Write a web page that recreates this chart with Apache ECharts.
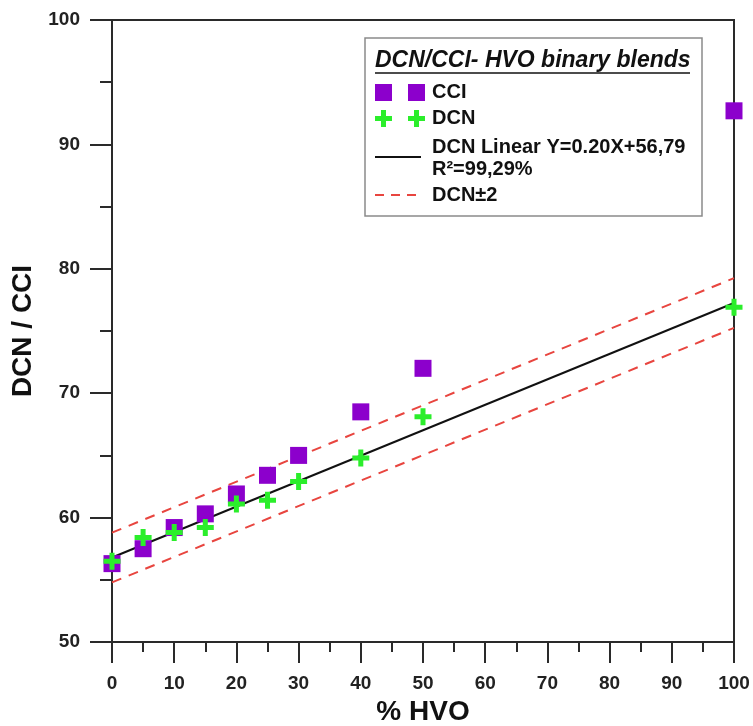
<!DOCTYPE html>
<html>
<head>
<meta charset="utf-8">
<title>DCN / CCI vs % HVO</title>
<script src="https://cdn.jsdelivr.net/npm/echarts@6/dist/echarts.min.js"></script>
<style>
  html, body { margin: 0; padding: 0; background: #ffffff; }
  #chart { width: 753px; height: 726px; }
</style>
</head>
<body>
<div id="chart"></div>
<script>
// HVO content of the blends (%)
const hvoPercent = [0, 5, 10, 15, 20, 25, 30, 40, 50, 100];
// Calculated cetane index
const cciValues = [56.3, 57.5, 59.2, 60.3, 61.9, 63.4, 65.0, 68.5, 72.0, 92.7];
// Derived cetane number
const dcnValues = [56.5, 58.4, 58.8, 59.2, 61.1, 61.4, 62.9, 64.8, 68.1, 76.9];

// Linear fit of DCN: Y = 0.20X + 56.79 (slope shown rounded), band of +/-2
const fitSlope = 0.2046;
const fitIntercept = 56.79;
const bandWidth = 2;
const fitRange = [0, 100];

const xTicks = { min: 0, max: 100, step: 10 };
const yTicks = { min: 50, max: 100, step: 10 };

const FONT = '"Liberation Sans", Arial, sans-serif';
const PURPLE = '#8C00CC';
const GREEN = '#2BEE2B';
const RED = '#E8453F';
const PLUS = 'path://M6,0H11V6H17V11H11V17H6V11H0V6H6Z';

const fitLine = fitRange.map(x => [x, fitIntercept + fitSlope * x]);
const upperBand = fitRange.map(x => [x, fitIntercept + fitSlope * x + bandWidth]);
const lowerBand = fitRange.map(x => [x, fitIntercept + fitSlope * x - bandWidth]);

const chart = echarts.init(document.getElementById('chart'), null, { renderer: 'canvas' });

const axisCommon = {
  type: 'value',
  axisLine: { show: true, lineStyle: { color: '#2a2a2a', width: 2 } },
  axisTick: { show: true, inside: false, lineStyle: { color: '#2a2a2a', width: 2 } },
  minorTick: { show: true, splitNumber: 2, lineStyle: { color: '#2a2a2a', width: 2 } },
  splitLine: { show: false },
  axisLabel: { color: '#222', fontFamily: FONT, fontWeight: 'bold', fontSize: 19 },
  nameTextStyle: { color: '#111', fontFamily: FONT, fontWeight: 'bold', fontSize: 28 }
};

// Legend panel drawn as graphic elements (two symbols per entry)
const lx = 365, ly = 38;
const legendFont = 'bold 20px ' + FONT;
const legendGraphic = [
  { type: 'rect', shape: { x: lx, y: ly, width: 337, height: 178 },
    style: { fill: '#fff', stroke: '#8a8a8a', lineWidth: 1.5 }, z: 100 },
  { type: 'text', x: 375, y: 61, z: 101,
    style: { text: 'DCN/CCI- HVO binary blends', fill: '#111', font: 'italic bold 23px ' + FONT,
             textVerticalAlign: 'middle' } },
  { type: 'line', shape: { x1: 375, y1: 73, x2: 690, y2: 73 }, z: 101,
    style: { stroke: '#111', lineWidth: 1.5 } },
  // CCI
  { type: 'rect', shape: { x: 375, y: 84, width: 17, height: 17 }, style: { fill: PURPLE }, z: 101 },
  { type: 'rect', shape: { x: 408, y: 84, width: 17, height: 17 }, style: { fill: PURPLE }, z: 101 },
  { type: 'text', x: 432, y: 92, z: 101,
    style: { text: 'CCI', fill: '#111', font: legendFont, textVerticalAlign: 'middle' } },
  // DCN
  { type: 'rect', shape: { x: 375, y: 116, width: 17, height: 5 }, style: { fill: GREEN }, z: 101 },
  { type: 'rect', shape: { x: 381, y: 110, width: 5, height: 17 }, style: { fill: GREEN }, z: 101 },
  { type: 'rect', shape: { x: 408, y: 116, width: 17, height: 5 }, style: { fill: GREEN }, z: 101 },
  { type: 'rect', shape: { x: 414, y: 110, width: 5, height: 17 }, style: { fill: GREEN }, z: 101 },
  { type: 'text', x: 432, y: 118, z: 101,
    style: { text: 'DCN', fill: '#111', font: legendFont, textVerticalAlign: 'middle' } },
  // Linear fit
  { type: 'line', shape: { x1: 375, y1: 157, x2: 421, y2: 157 }, z: 101,
    style: { stroke: '#111', lineWidth: 2 } },
  { type: 'text', x: 432, y: 147, z: 101,
    style: { text: 'DCN Linear Y=0.20X+56,79', fill: '#111', font: legendFont, textVerticalAlign: 'middle' } },
  { type: 'text', x: 432, y: 169, z: 101,
    style: { text: 'R\u00B2=99,29%', fill: '#111', font: legendFont, textVerticalAlign: 'middle' } },
  // Band
  { type: 'line', shape: { x1: 375, y1: 195, x2: 421, y2: 195 }, z: 101,
    style: { stroke: RED, lineWidth: 2, lineDash: [9, 7] } },
  { type: 'text', x: 432, y: 195, z: 101,
    style: { text: 'DCN\u00B12', fill: '#111', font: legendFont, textVerticalAlign: 'middle' } }
];

chart.setOption({
  animation: false,
  backgroundColor: '#ffffff',
  grid: { left: 112, right: 19, top: 20, bottom: 84, show: true, outerBoundsMode: 'none',
          containLabel: false,
          borderColor: '#2a2a2a', borderWidth: 2, backgroundColor: 'transparent' },
  xAxis: Object.assign({}, axisCommon, {
    min: xTicks.min, max: xTicks.max, interval: xTicks.step,
    name: '% HVO', nameLocation: 'middle', nameGap: 56,
    axisTick: Object.assign({}, axisCommon.axisTick, { length: 21 }),
    minorTick: Object.assign({}, axisCommon.minorTick, { length: 10 }),
    axisLabel: Object.assign({}, axisCommon.axisLabel, { margin: 32 })
  }),
  yAxis: Object.assign({}, axisCommon, {
    min: yTicks.min, max: yTicks.max, interval: yTicks.step,
    name: 'DCN / CCI', nameLocation: 'middle', nameGap: 67,
    axisTick: Object.assign({}, axisCommon.axisTick, { length: 22 }),
    minorTick: Object.assign({}, axisCommon.minorTick, { length: 12 }),
    axisLabel: Object.assign({}, axisCommon.axisLabel, { margin: 32 })
  }),
  series: [
    { name: 'DCN\u00B12 upper', type: 'line', data: upperBand, showSymbol: false, silent: true,
      lineStyle: { color: RED, width: 2, type: [10, 8] }, z: 2 },
    { name: 'DCN\u00B12 lower', type: 'line', data: lowerBand, showSymbol: false, silent: true,
      lineStyle: { color: RED, width: 2, type: [10, 8] }, z: 2 },
    { name: 'DCN Linear', type: 'line', data: fitLine, showSymbol: false, silent: true,
      lineStyle: { color: '#111', width: 2 }, z: 3 },
    { name: 'CCI', type: 'scatter', symbol: 'rect', symbolSize: 17,
      data: hvoPercent.map((x, i) => [x, cciValues[i]]),
      itemStyle: { color: PURPLE, opacity: 1 }, z: 4 },
    { name: 'DCN', type: 'scatter', symbol: PLUS, symbolSize: 17,
      data: hvoPercent.map((x, i) => [x, dcnValues[i]]),
      itemStyle: { color: GREEN, opacity: 1 }, z: 5 }
  ],
  graphic: legendGraphic
});
</script>
</body>
</html>
